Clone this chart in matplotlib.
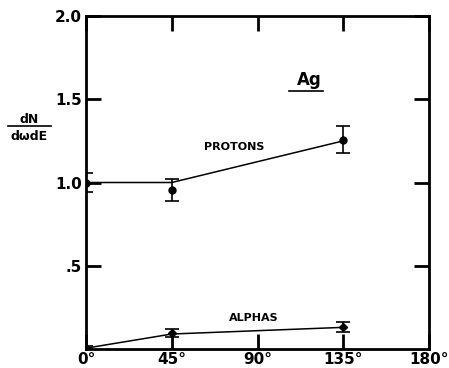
import matplotlib
matplotlib.use("Agg")
import matplotlib.pyplot as plt
from matplotlib.lines import Line2D

# Data
angles = [0, 45, 135]
proton_vals = [1.0, 0.955, 1.257]
proton_err = [0.055, 0.068, 0.08]
proton_curve_x = [0, 45, 135]
proton_curve_y = [1.0, 1.0, 1.25]

alpha_vals = [0.008, 0.094, 0.132]
alpha_err = [0.01, 0.024, 0.028]
alpha_curve_x = [0, 45, 135]
alpha_curve_y = [0.005, 0.09, 0.13]

xticks = [0, 45, 90, 135, 180]
xticklabels = ["0°", "45°", "90°", "135°", "180°"]
yticks = [0.5, 1.0, 1.5, 2.0]
yticklabels = [".5", "1.0", "1.5", "2.0"]

fig = plt.figure(figsize=(4.49, 3.68), dpi=100)
ax = fig.add_axes([86/449, 1-349/368, (429-86)/449, (349-16)/368])

ax.plot(proton_curve_x, proton_curve_y, color='black', lw=1.1, zorder=2)
ax.errorbar(angles, proton_vals, yerr=proton_err, fmt='o', color='black',
            ms=5, capsize=5, elinewidth=1.2, capthick=1.2, zorder=3)
ax.plot(alpha_curve_x, alpha_curve_y, color='black', lw=1.1, zorder=2)
ax.errorbar(angles, alpha_vals, yerr=alpha_err, fmt='D', color='black',
            ms=4, capsize=5, elinewidth=1.2, capthick=1.2, zorder=3)

ax.set_xlim(0, 180)
ax.set_ylim(0, 2.0)
ax.set_xticks(xticks)
ax.set_xticklabels(xticklabels)
ax.set_yticks(yticks)
ax.set_yticklabels(yticklabels)
ax.tick_params(direction='in', length=11, width=2, top=True, right=True,
               labelsize=11)
ax.tick_params(axis='x', pad=2.5)
ax.tick_params(axis='y', pad=3)
for lab in ax.get_xticklabels() + ax.get_yticklabels():
    lab.set_fontweight('bold')
for s in ax.spines.values():
    s.set_linewidth(2)

ax.text(78, 1.213, "PROTONS", fontsize=8, fontweight='bold', ha='center', va='center')
ax.text(88, 0.186, "ALPHAS", fontsize=8, fontweight='bold', ha='center', va='center')
ax.text(117, 1.615, "Ag", fontsize=12, fontweight='bold', ha='center', va='center')
ax.plot([106.5, 124.4], [1.55, 1.55], color='black', lw=1.2, clip_on=False)

# y-axis label as fraction
fig.text(29/449, 1-119/368, "dN", fontsize=9, fontweight='bold', ha='center', va='center')
fig.add_artist(Line2D([8/449, 51/449], [1-126/368, 1-126/368], color='black', lw=1.2,
                      transform=fig.transFigure))
fig.text(29/449, 1-136/368, "dωdE", fontsize=9, fontweight='bold', ha='center', va='center')

fig.savefig("out.png", dpi=100)
